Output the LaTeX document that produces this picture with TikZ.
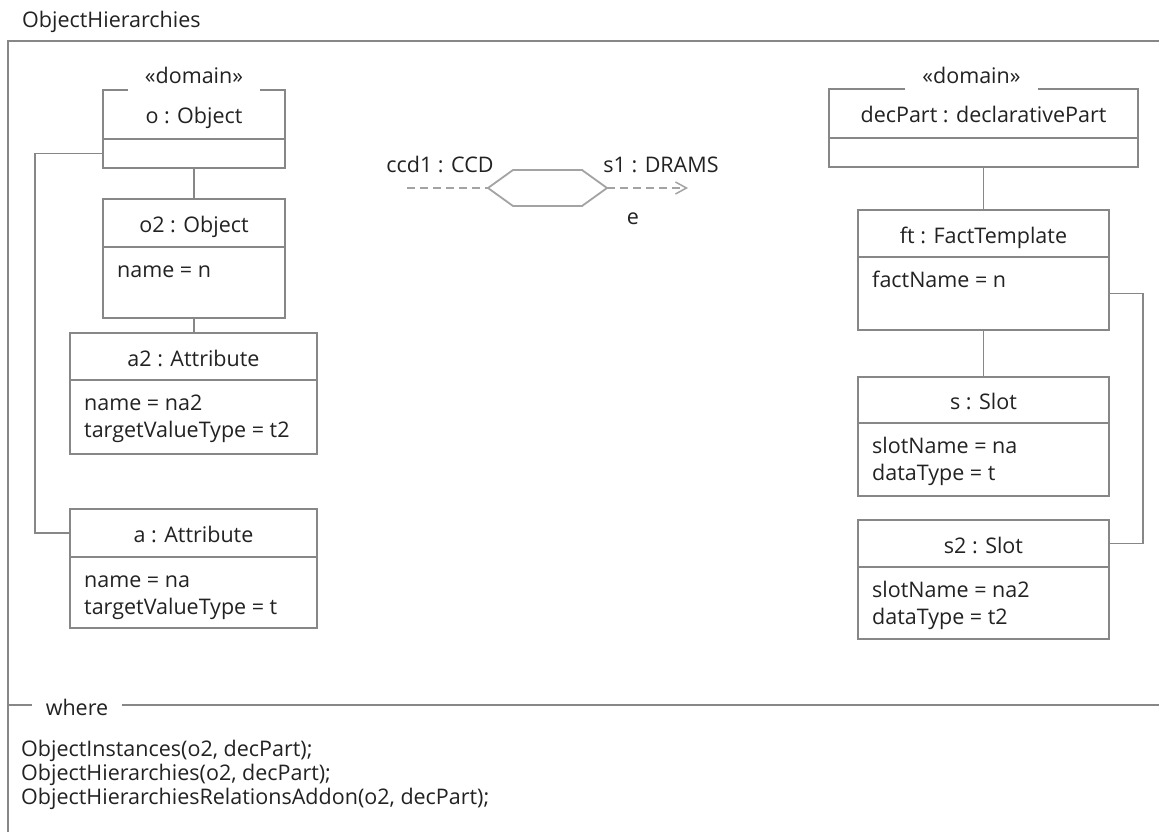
\documentclass[tikz,border=0pt]{standalone}
\usepackage{fontspec}
\setmainfont{Open Sans}
\usetikzlibrary{arrows.meta}

\definecolor{linegray}{HTML}{878787}
\definecolor{dashgray}{HTML}{A3A3A3}
\definecolor{ink}{HTML}{222222}
\newcommand\umlfont{\fontsize{21.5}{27}\selectfont}

\tikzset{
  frameline/.style={draw=linegray, line width=1.8pt},
  link/.style={draw=linegray, line width=1.8pt},
  headbox/.style={draw=linegray, line width=1.8pt, fill=white, anchor=north west,
    inner sep=0pt, outer sep=0pt, text height=19pt, text depth=0pt, font=\umlfont, text=ink},
  bodybox/.style={draw=linegray, line width=1.8pt, anchor=north west,
    inner sep=0pt, outer sep=0pt},
  stereo/.style={fill=white, anchor=base, inner xsep=17pt, inner ysep=8pt, font=\umlfont, text=ink},
  attr/.style={anchor=base west, inner sep=0pt, font=\umlfont, text=ink},
  label/.style={anchor=base, inner sep=0pt, font=\umlfont, text=ink},
  dashline/.style={draw=dashgray, line width=1.5pt, dash pattern=on 8pt off 5pt},
  hexline/.style={draw=dashgray, line width=1.8pt, line join=miter},
}

\begin{document}
\begin{tikzpicture}[x=1pt, y=-1pt]
\useasboundingbox (0,0) rectangle (1159,832);
\clip (0,0) rectangle (1159,832);

% outer frame and its title
\draw[frameline] (8,850) |- (1175,41);
\node[attr] (title) at (22,28) {ObjectHierarchies};

% ---- left hierarchy ----
\node[headbox, minimum width=182pt, minimum height=49pt] (o-h) at (103,90) {o : Object};
\node[bodybox, minimum width=182pt, minimum height=29pt] (o-b) at (103,139) {};
\node[stereo] (o-st) at (194,84) {«domain»};

\node[headbox, minimum width=182pt, minimum height=48pt] (o2-h) at (103,199) {o2 : Object};
\node[bodybox, minimum width=182pt, minimum height=71pt] (o2-b) at (103,247) {};
\node[attr] (o2-a1) at (117,277) {name = n};

\node[headbox, minimum width=247pt, minimum height=47pt] (a2-h) at (70,333) {a2 : Attribute};
\node[bodybox, minimum width=247pt, minimum height=74pt] (a2-b) at (70,380) {};
\node[attr] (a2-a1) at (84,410) {name = na2};
\node[attr] (a2-a2) at (84,437) {targetValueType = t2};

\node[headbox, minimum width=247pt, minimum height=48pt] (a-h) at (70,509) {a : Attribute};
\node[bodybox, minimum width=247pt, minimum height=71pt] (a-b) at (70,557) {};
\node[attr] (a-a1) at (84,587) {name = na};
\node[attr] (a-a2) at (84,614) {targetValueType = t};

\draw[link] (o-b.south) -- (o2-h.north);
\draw[link] (o2-b.south) -- (o2-b.south |- a2-h.north);
\draw[link] (o-b.west) -- ++(-68,0) |- (a-h.west);

% ---- right hierarchy ----
\node[headbox, minimum width=309pt, minimum height=49pt] (dp-h) at (829,89) {decPart : declarativePart};
\node[bodybox, minimum width=309pt, minimum height=29pt] (dp-b) at (829,138) {};
\node[stereo] (dp-st) at (971.5,84) {«domain»};

\node[headbox, minimum width=251pt, minimum height=47pt] (ft-h) at (858,210) {ft : FactTemplate};
\node[bodybox, minimum width=251pt, minimum height=73pt] (ft-b) at (858,257) {};
\node[attr] (ft-a1) at (872,287) {factName = n};

\node[headbox, minimum width=251pt, minimum height=46pt] (s-h) at (858,377) {s : Slot};
\node[bodybox, minimum width=251pt, minimum height=73pt] (s-b) at (858,423) {};
\node[attr] (s-a1) at (872,453) {slotName = na};
\node[attr] (s-a2) at (872,480) {dataType = t};

\node[headbox, minimum width=251pt, minimum height=47pt] (s2-h) at (858,520) {s2 : Slot};
\node[bodybox, minimum width=251pt, minimum height=72pt] (s2-b) at (858,567) {};
\node[attr] (s2-a1) at (872,597) {slotName = na2};
\node[attr] (s2-a2) at (872,624) {dataType = t2};

\draw[link] (dp-b.south) -- (dp-b.south |- ft-h.north);
\draw[link] (ft-b.south) -- (s-h.north);
\draw[link] (ft-b.east) -- ++(34,0) |- (s2-h.east);

% ---- transformation in the middle ----
\coordinate (hexL) at (488,188);
\coordinate (hexR) at (607,188);
\coordinate (ccdEnd) at (407,188);
\coordinate (dramsEnd) at (688,188);
\draw[hexline] (hexL) -- (513,170) -- (582,170) -- (hexR) -- (582,206) -- (513,206) -- cycle;
\draw[dashline] (ccdEnd) -- (hexL);
\draw[dashline, -{Straight Barb[length=11pt, width=12pt, line width=1.5pt]}] (hexR) -- (dramsEnd);
\node[label] (ccd) at (440,172) {ccd1 : CCD};
\node[label] (drams) at (661,172) {s1 : DRAMS};
\node[label] (e) at (633,224) {e};

% ---- where clause ----
\draw[frameline] (8,705) -- (1175,705);
\node[label, fill=white, inner xsep=14pt, inner ysep=4pt] (where) at (77,715) {where};
\node[attr] (w1) at (21,756) {ObjectInstances(o2, decPart);};
\node[attr] (w2) at (21,780) {ObjectHierarchies(o2, decPart);};
\node[attr] (w3) at (21,804) {ObjectHierarchiesRelationsAddon(o2, decPart);};
\end{tikzpicture}
\end{document}
